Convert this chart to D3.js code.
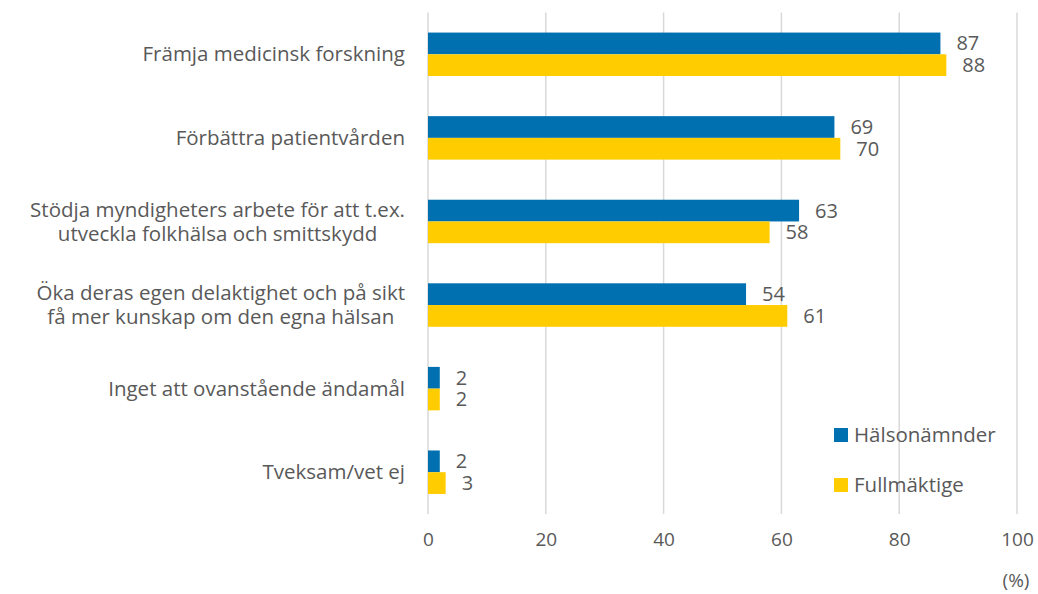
<!DOCTYPE html>
<html>
<head>
<meta charset="utf-8">
<script src="https://cdn.jsdelivr.net/npm/d3@7"></script>
<style>
  body { margin: 0; background: #fff; }
  text { font-family: "Open Sans", "Noto Sans", sans-serif; fill: #595959; }
</style>
</head>
<body>
<div id="chart"></div>
<script>
var categories = [
  ["Främja medicinsk forskning"],
  ["Förbättra patientvården"],
  ["Stödja myndigheters arbete för att t.ex.", "utveckla folkhälsa och smittskydd"],
  ["Öka deras egen delaktighet och på sikt", "få mer kunskap om den egna hälsan"],
  ["Inget att ovanstående ändamål"],
  ["Tveksam/vet ej"]
];
var halsonamnder = [87, 69, 63, 54, 2, 2];
var fullmaktige = [88, 70, 58, 61, 2, 3];
var seriesNames = ["Hälsonämnder", "Fullmäktige"];
var colors = ["#0070B0", "#FFCC00"];
var xTicks = [0, 20, 40, 60, 80, 100];

var W = 1038, H = 594;
var svg = d3.select("#chart").append("svg")
    .attr("width", W)
    .attr("height", H);

var x = d3.scaleLinear().domain([0, 100]).range([428, 1017]);
var y = d3.scaleBand()
    .domain(d3.range(categories.length))
    .range([12.5, 514])
    .paddingInner(0.48)
    .paddingOuter(0.24);
var sub = d3.scaleBand().domain([0, 1]).range([0, y.bandwidth()]);

// gridlines
svg.append("g").selectAll("line")
  .data(xTicks)
  .enter().append("line")
    .attr("x1", function(d) { return x(d); })
    .attr("x2", function(d) { return x(d); })
    .attr("y1", 12.5)
    .attr("y2", 514)
    .attr("stroke", "#d9d9d9")
    .attr("stroke-width", 1.5);

// x axis labels
var xAxis = svg.append("g")
    .attr("transform", "translate(0,514)")
    .call(d3.axisBottom(x).tickValues(xTicks).tickSize(0).tickPadding(19));
xAxis.select(".domain").remove();
xAxis.selectAll("text")
    .attr("font-size", "19px")
    .style("font-family", '"Open Sans", sans-serif')
    .attr("fill", "#595959");

svg.append("text")
    .attr("x", 1016)
    .attr("y", 587)
    .attr("text-anchor", "middle")
    .attr("font-size", "19px")
    .text("(%)");

// bars
var series = [halsonamnder, fullmaktige];
var rows = svg.append("g").selectAll("g")
  .data(categories)
  .enter().append("g")
    .attr("transform", function(d, i) { return "translate(0," + y(i) + ")"; });

rows.selectAll("rect")
  .data(function(d, i) { return series.map(function(s, k) { return {k: k, v: s[i]}; }); })
  .enter().append("rect")
    .attr("x", x(0))
    .attr("y", function(d) { return sub(d.k); })
    .attr("width", function(d) { return x(d.v) - x(0); })
    .attr("height", sub.bandwidth())
    .attr("fill", function(d) { return colors[d.k]; });

rows.selectAll(".val")
  .data(function(d, i) { return series.map(function(s, k) { return {k: k, v: s[i]}; }); })
  .enter().append("text")
    .attr("class", "val")
    .attr("x", function(d) { return x(d.v) + 16; })
    .attr("y", function(d) { return sub(d.k) + sub.bandwidth() / 2; })
    .attr("dy", "0.35em")
    .attr("font-size", "20px")
    .text(function(d) { return d.v; });

// category labels: block right-aligned, lines centred within it
var labelRight = 405, lineH = 24;
rows.each(function(lines, i) {
  var g = d3.select(this);
  var mid = y.bandwidth() / 2;
  var t = g.selectAll(".cat")
    .data(lines)
    .enter().append("text")
      .attr("class", "cat")
      .attr("font-size", "20.5px")
      .attr("y", function(d, j) { return mid + (j - (lines.length - 1) / 2) * lineH; })
      .attr("dy", "0.35em")
      .text(function(d) { return d; });
  var maxW = 0;
  t.each(function() { maxW = Math.max(maxW, this.getComputedTextLength()); });
  t.attr("x", labelRight - maxW / 2).attr("text-anchor", "middle");
});

// legend
var legend = svg.append("g").selectAll("g")
  .data(seriesNames)
  .enter().append("g")
    .attr("transform", function(d, i) { return "translate(834," + (435 + i * 50) + ")"; });
legend.append("rect")
    .attr("x", 0)
    .attr("y", -7)
    .attr("width", 14)
    .attr("height", 14)
    .attr("fill", function(d, i) { return colors[i]; });
legend.append("text")
    .attr("x", 20)
    .attr("y", 0)
    .attr("dy", "0.35em")
    .attr("font-size", "20.5px")
    .text(function(d) { return d; });
</script>
</body>
</html>
